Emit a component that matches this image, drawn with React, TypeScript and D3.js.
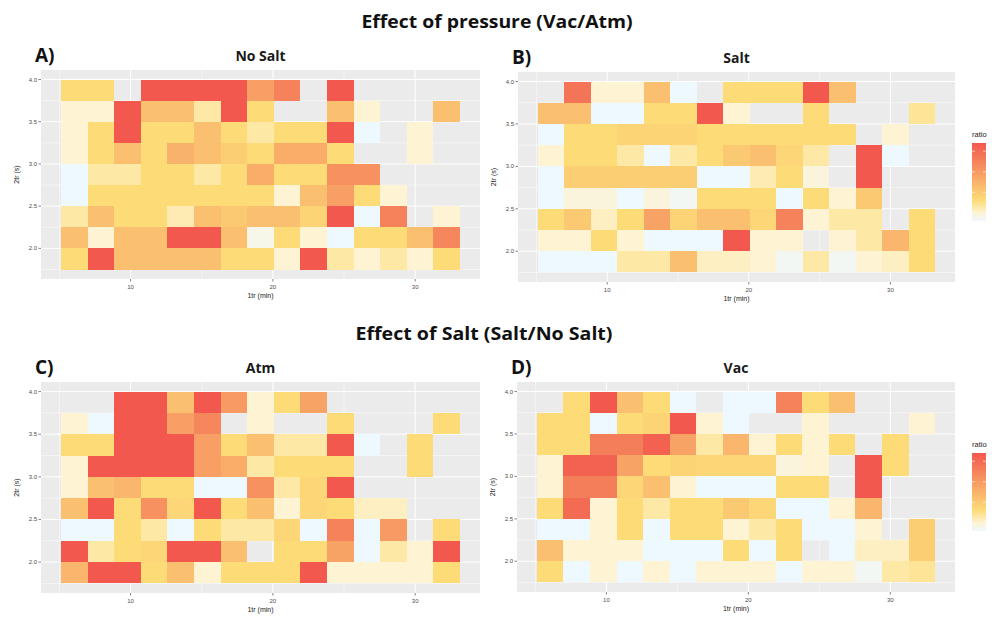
import React from "react";
import * as d3 from "d3";

// first-dimension retention time bins (min), centres of the tiles
const rtMin = [6.04, 7.91, 9.78, 11.65, 13.52, 15.39, 17.26, 19.13, 21.0, 22.87, 24.74, 26.61, 28.48, 30.35, 32.22];
const rtWidth = 1.87;
// second-dimension retention time bins (s), top row first
const t2Sec = [3.875, 3.625, 3.375, 3.125, 2.875, 2.625, 2.375, 2.125, 1.875];
const t2Height = 0.25;

const xTicks = [10, 20, 30];
const xTickLabels = ["10", "20", "30"];
const yTicks = [4.0, 3.5, 3.0, 2.5, 2.0];
const yTickLabels = ["4.0", "3.5", "3.0", "2.5", "2.0"];
const legendTicks = [0.5, 1.0, 1.5, 2.0];

// ratio per cell, rows top -> bottom, null = no compound in that bin
const noSaltRatio = [
  [0.8, 0.8, null, 2.2, 2.2, 2.2, 2.2, 1.45, 1.75, null, 2.2, null, null, null, null],
  [0.5, 0.5, 2.2, 1.1, 1.1, 0.65, 2.2, 0.8, null, null, 1.1, 0.5, null, null, 1.1],
  [0.5, 0.8, 2.2, 0.8, 0.8, 1.1, 0.8, 0.65, 0.8, 0.8, 2.2, 0.3, null, 0.5, null],
  [0.5, 0.8, 1.1, 0.8, 1.25, 1.1, 0.95, 0.8, 1.3, 1.3, 0.8, null, null, 0.5, null],
  [0.3, 0.65, 0.65, 0.8, 0.8, 0.65, 0.8, 1.3, 0.8, 0.8, 1.6, 1.6, null, null, null],
  [0.3, 0.8, 0.8, 0.8, 0.8, 0.8, 0.8, 0.8, 0.5, 1.1, 1.45, 0.8, 0.5, null, null],
  [0.65, 1.1, 0.8, 0.8, 0.6, 1.1, 1.0, 1.1, 1.1, 0.9, 2.2, 0.3, 1.75, null, 0.5],
  [1.1, 0.5, 1.1, 1.1, 2.2, 2.2, 1.1, 0.4, 0.8, 0.5, 0.3, 0.8, 0.8, 1.1, 1.7],
  [0.8, 2.2, 1.1, 1.1, 1.1, 1.1, 0.8, 0.8, 0.5, 2.2, 0.65, 0.5, 0.65, 0.5, 0.8],
];

const saltRatio = [
  [null, 1.9, 0.5, 0.5, 1.1, 0.3, null, 0.8, 0.8, 0.8, 2.2, 1.1, null, null, null],
  [1.1, 1.1, 0.3, 0.3, 0.8, 0.8, 2.2, 0.5, null, null, 0.8, null, null, null, 0.7],
  [0.3, 0.8, 0.8, 0.9, 0.9, 0.9, 0.8, 0.8, 0.8, 0.8, 0.8, 0.8, null, 0.5, null],
  [0.5, 0.8, 0.8, 0.65, 0.3, 0.65, 0.8, 1.0, 1.1, 0.85, 0.65, null, 2.2, 0.3, null],
  [0.3, 0.95, 0.95, 0.95, 0.95, 0.95, 0.3, 0.3, 0.6, 0.8, 0.45, null, 2.2, null, null],
  [0.3, 0.45, 0.45, 0.3, 0.45, 0.35, 0.8, 0.8, 0.8, 0.3, 0.8, 0.5, 1.0, null, null],
  [0.8, 1.0, 0.55, 0.8, 1.4, 0.9, 1.1, 1.1, 0.85, 1.75, 0.5, 0.65, 0.65, null, 0.8],
  [0.5, 0.5, 0.8, 0.5, 0.3, 0.3, 0.3, 2.2, 0.5, 0.5, null, 0.5, 0.65, 1.2, 0.8],
  [0.3, 0.3, 0.3, 0.65, 0.65, 1.1, 0.55, 0.55, 0.5, 0.35, 0.65, 0.35, 0.5, 0.55, 0.8],
];

const atmRatio = [
  [null, null, 2.2, 2.2, 1.1, 2.2, 1.5, 0.5, 0.8, 1.4, null, null, null, null, null],
  [0.5, 0.3, 2.2, 2.2, 1.45, 1.7, null, 0.5, null, null, 0.8, null, null, null, 0.8],
  [0.8, 0.8, 2.2, 2.2, 2.2, 1.45, 0.8, 1.1, 0.65, 0.65, 2.2, 0.3, null, 0.8, null],
  [0.5, 2.2, 2.2, 2.2, 2.2, 1.45, 1.3, 0.65, 0.8, 0.8, 0.8, null, null, 0.8, null],
  [0.5, 1.1, 1.2, 0.8, 0.8, 0.3, 0.3, 1.6, 0.65, 0.85, 2.2, null, null, null, null],
  [1.1, 2.2, 0.8, 1.6, 0.85, 2.2, 0.8, 1.1, 0.5, 0.85, 0.8, 0.55, 0.55, null, null],
  [0.3, 0.3, 0.8, 0.65, 0.3, 0.8, 0.65, 0.65, 0.85, 0.3, 1.75, 0.3, 1.5, null, 0.8],
  [2.2, 0.65, 0.8, 0.85, 2.2, 2.2, 1.1, null, 0.8, 0.8, 1.4, 0.3, 0.65, 0.5, 2.2],
  [1.2, 2.2, 2.2, 0.8, 1.1, 0.5, 0.8, 0.8, 0.8, 2.2, 0.5, 0.5, 0.5, 0.5, 0.8],
];

const vacRatio = [
  [null, 0.8, 2.2, 1.1, 0.8, 0.3, null, 0.3, 0.3, 1.75, 0.8, 1.1, null, null, null],
  [0.8, 0.8, 0.3, 0.8, 0.9, 2.2, 0.5, 0.3, null, null, 0.5, null, null, null, 0.5],
  [0.8, 0.8, 1.8, 1.8, 2.1, 1.4, 0.65, 1.2, 0.5, 0.8, 0.5, 0.8, null, 0.8, null],
  [0.5, 2.1, 2.1, 1.4, 0.8, 0.9, 0.85, 0.85, 0.85, 0.45, 0.5, null, 2.2, 0.8, null],
  [0.5, 1.8, 1.8, 0.85, 1.1, 0.5, 0.3, 0.3, 0.3, 0.8, 0.8, null, 2.2, null, null],
  [0.8, 2.0, 0.5, 0.8, 0.65, 0.8, 0.8, 1.0, 0.85, 0.3, 0.3, 0.5, 1.2, null, null],
  [0.3, 0.3, 0.5, 0.8, 0.3, 0.8, 0.8, 0.5, 0.65, 0.8, 0.3, 0.3, 0.5, null, 0.95],
  [1.1, 0.5, 0.5, 0.5, 0.3, 0.3, 0.3, 0.8, 0.3, 0.8, null, 0.3, 0.55, 0.55, 0.95],
  [0.8, 0.3, 0.5, 0.3, 0.5, 0.3, 0.5, 0.5, 0.5, 0.3, 0.5, 0.5, 0.35, 0.65, 0.7],
];

const W = 992;
const H = 617;
const FONT = "'Open Sans', 'DejaVu Sans', sans-serif";
const AXFONT = "'Liberation Sans', Arial, sans-serif";

const color = d3
  .scaleLinear<string>()
  .domain([0.3, 0.5, 0.8, 2.2])
  .range(["#EEF8FF", "#FEF3D2", "#FDDC78", "#F2584E"])
  .interpolate(d3.interpolateRgb)
  .clamp(true);

const panels = [
  { id: "A", label: "A)", title: "No Salt", grid: noSaltRatio, x: 41, y: 70, w: 439, h: 209, legend: false },
  { id: "B", label: "B)", title: "Salt", grid: saltRatio, x: 518, y: 72, w: 437, h: 210, legend: true },
  { id: "C", label: "C)", title: "Atm", grid: atmRatio, x: 41, y: 382, w: 439, h: 211, legend: false },
  { id: "D", label: "D)", title: "Vac", grid: vacRatio, x: 517, y: 382, w: 438, h: 210, legend: true },
];

type Panel = (typeof panels)[number];

const Heatmap = ({ p }: { p: Panel }) => {
  const x0 = rtMin[0] - rtWidth / 2;
  const x1 = rtMin[rtMin.length - 1] + rtWidth / 2;
  const xpad = (x1 - x0) * 0.05;
  const y0 = t2Sec[t2Sec.length - 1] - t2Height / 2;
  const y1 = t2Sec[0] + t2Height / 2;
  const ypad = (y1 - y0) * 0.05;

  const x = d3.scaleLinear().domain([x0 - xpad, x1 + xpad]).range([p.x, p.x + p.w]);
  const y = d3.scaleLinear().domain([y0 - ypad, y1 + ypad]).range([p.y + p.h, p.y]);

  const xMinor = [5, 15, 25];
  const yMinor = [1.75, 2.25, 2.75, 3.25, 3.75];

  const cells: { rt: number; t2: number; v: number }[] = [];
  p.grid.forEach((row, i) =>
    row.forEach((v, j) => {
      if (v != null) cells.push({ rt: rtMin[j], t2: t2Sec[i], v });
    })
  );

  const gradId = `grad-${p.id}`;
  const lgX = 972;
  const lgTop = p.y + 71;
  const lgH = 78;
  const lgScale = d3.scaleLinear().domain([0.3, 2.2]).range([lgTop + lgH, lgTop]);

  return (
    <g>
      <text x={p.x - 6} y={p.y - 8} fontFamily={FONT} fontWeight={700} fontSize={19} fill="#111">
        {p.label}
      </text>
      <text x={p.x + p.w / 2} y={p.y - 9} textAnchor="middle" fontFamily={FONT} fontWeight={700} fontSize={14} fill="#1a1a1a">
        {p.title}
      </text>

      <rect x={p.x} y={p.y} width={p.w} height={p.h} fill="#EBEBEB" />
      {xMinor.map((t) => (
        <line key={`xm${t}`} x1={x(t)} x2={x(t)} y1={p.y} y2={p.y + p.h} stroke="#fff" strokeWidth={0.5} />
      ))}
      {yMinor.map((t) => (
        <line key={`ym${t}`} x1={p.x} x2={p.x + p.w} y1={y(t)} y2={y(t)} stroke="#fff" strokeWidth={0.5} />
      ))}
      {xTicks.map((t) => (
        <line key={`xg${t}`} x1={x(t)} x2={x(t)} y1={p.y} y2={p.y + p.h} stroke="#fff" strokeWidth={1} />
      ))}
      {yTicks.map((t) => (
        <line key={`yg${t}`} x1={p.x} x2={p.x + p.w} y1={y(t)} y2={y(t)} stroke="#fff" strokeWidth={1} />
      ))}

      {cells.map((c, k) => (
        <rect
          key={k}
          x={x(c.rt - rtWidth / 2)}
          y={y(c.t2 + t2Height / 2)}
          width={x(c.rt + rtWidth / 2) - x(c.rt - rtWidth / 2)}
          height={y(c.t2 - t2Height / 2) - y(c.t2 + t2Height / 2)}
          fill={color(c.v)}
          shapeRendering="crispEdges"
        />
      ))}

      {xTicks.map((t, i) => (
        <g key={`xt${t}`}>
          <line x1={x(t)} x2={x(t)} y1={p.y + p.h} y2={p.y + p.h + 2.5} stroke="#333" strokeWidth={0.6} />
          <text x={x(t)} y={p.y + p.h + 9.5} textAnchor="middle" fontFamily={AXFONT} fontSize={6} fill="#4d4d4d">
            {xTickLabels[i]}
          </text>
        </g>
      ))}
      {yTicks.map((t, i) => (
        <g key={`yt${t}`}>
          <line x1={p.x - 2.5} x2={p.x} y1={y(t)} y2={y(t)} stroke="#333" strokeWidth={0.6} />
          <text x={p.x - 4} y={y(t) + 2} textAnchor="end" fontFamily={AXFONT} fontSize={6} fill="#4d4d4d">
            {yTickLabels[i]}
          </text>
        </g>
      ))}
      <text x={p.x + p.w / 2} y={p.y + p.h + 18.5} textAnchor="middle" fontFamily={AXFONT} fontSize={7} fill="#222">
        1tr (min)
      </text>
      <text
        transform={`translate(${p.x - 22},${p.y + p.h / 2}) rotate(-90)`}
        textAnchor="middle"
        fontFamily={AXFONT}
        fontSize={7}
        fill="#222"
      >
        2tr (s)
      </text>

      {p.legend && (
        <g>
          <defs>
            <linearGradient id={gradId} x1="0" x2="0" y1="1" y2="0">
              {d3.range(0, 1.0001, 0.05).map((f) => (
                <stop key={f} offset={f} stopColor={color(0.3 + f * 1.9)} />
              ))}
            </linearGradient>
          </defs>
          <text x={lgX} y={lgTop - 6} fontFamily={AXFONT} fontSize={7.5} fill="#222">
            ratio
          </text>
          <rect x={lgX} y={lgTop} width={14} height={lgH} fill={`url(#${gradId})`} />
          {legendTicks.map((t) => (
            <g key={`lg${t}`}>
              <line x1={lgX} x2={lgX + 3} y1={lgScale(t)} y2={lgScale(t)} stroke="#fff" strokeWidth={0.6} />
              <line x1={lgX + 11} x2={lgX + 14} y1={lgScale(t)} y2={lgScale(t)} stroke="#fff" strokeWidth={0.6} />
            </g>
          ))}
        </g>
      )}
    </g>
  );
};

export default function App() {
  return (
    <svg
      width={W}
      height={H}
      viewBox={`0 0 ${W} ${H}`}
      style={{ position: "absolute", left: 0, top: 0, display: "block", background: "#fff" }}
    >
      <rect width={W} height={H} fill="#fff" />
      <text
        x={497}
        y={28}
        textAnchor="middle"
        fontFamily={FONT}
        fontWeight={700}
        fontSize={17.5}
        textLength={271}
        lengthAdjust="spacingAndGlyphs"
        fill="#111"
      >
        Effect of pressure (Vac/Atm)
      </text>
      <text
        x={484}
        y={340}
        textAnchor="middle"
        fontFamily={FONT}
        fontWeight={700}
        fontSize={17.5}
        textLength={257}
        lengthAdjust="spacingAndGlyphs"
        fill="#111"
      >
        Effect of Salt (Salt/No Salt)
      </text>
      {panels.map((p) => (
        <Heatmap key={p.id} p={p} />
      ))}
    </svg>
  );
}
